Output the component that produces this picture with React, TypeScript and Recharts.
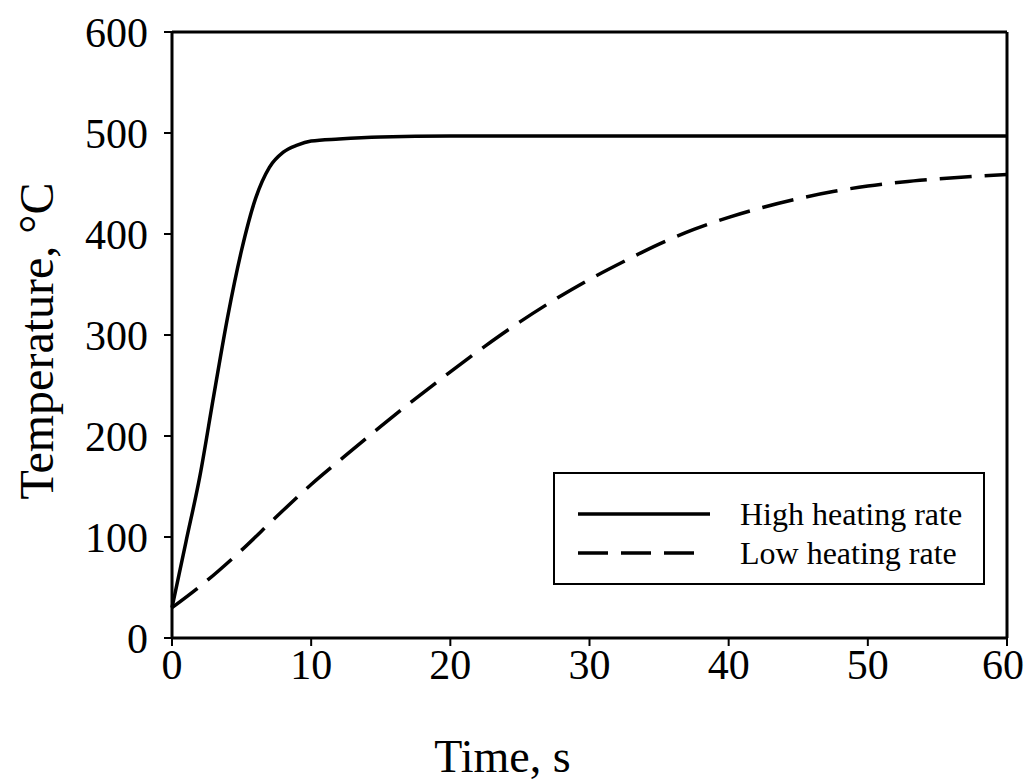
import {
  Legend,
  Line,
  LineChart,
  ReferenceLine,
  XAxis,
  YAxis,
  type LegendProps,
} from "recharts";

const FONT = '"Liberation Serif", "Times New Roman", serif';

// time (s) / temperature (°C)
const highTime = [0, 1, 2, 3, 4, 5, 6, 7, 8, 9, 10, 12, 15, 20, 30, 40, 50, 60];
const highTemp = [30, 95, 160, 240, 318, 384, 435, 466, 481, 488, 492, 494, 496, 497, 497, 497, 497, 497];

const lowTime = [
  0, 2, 5, 7.5, 10, 12.5, 15, 17.5, 20, 22.5, 25, 27.5, 30, 32.5, 35, 37.5, 40, 42.5, 45, 47.5, 50,
  52.5, 55, 57.5, 60,
];
const lowTemp = [
  30, 51, 87, 120, 152, 181, 209.5, 237, 263.5, 289, 313, 335, 355, 373, 390, 404.5, 416.5, 426.5,
  435, 442, 447.5, 451.5, 454.5, 457, 459,
];

const xTicks = [0, 10, 20, 30, 40, 50, 60];
const yTicks = [0, 100, 200, 300, 400, 500, 600];

const seriesNames = ["High heating rate", "Low heating rate"];
const seriesDash = ["", "32 13"];

const highData = highTime.map((t, i) => ({ t, temp: highTemp[i] }));
const lowData = lowTime.map((t, i) => ({ t, temp: lowTemp[i] }));

function LegendBox(_props: LegendProps) {
  return (
    <div
      style={{
        boxSizing: "border-box",
        width: 432,
        height: 113,
        border: "2px solid #000",
        background: "#fff",
        paddingTop: 20,
        fontFamily: FONT,
        fontSize: 32,
        color: "#000",
      }}
    >
      {seriesNames.map((name, i) => (
        <div key={name} style={{ display: "flex", alignItems: "center", height: 39 }}>
          <svg width={185} height={20} style={{ flex: "none" }}>
            <line
              x1={23}
              x2={i === 0 ? 155 : 143}
              y1={10}
              y2={10}
              stroke="#000"
              strokeWidth={3.5}
              strokeDasharray={i === 0 ? undefined : "30 13"}
            />
          </svg>
          <span style={{ lineHeight: 1 }}>{name}</span>
        </div>
      ))}
    </div>
  );
}

export default function App() {
  return (
    <LineChart
      width={1016}
      height={776}
      margin={{ top: 24, right: 17, left: 0, bottom: 0 }}
      style={{ fontFamily: FONT }}
    >
      <XAxis
        type="number"
        dataKey="t"
        domain={[0, 60]}
        ticks={xTicks}
        allowDuplicatedCategory={false}
        height={146}
        axisLine={{ stroke: "#000", strokeWidth: 3 }}
        tickLine={{ stroke: "#000", strokeWidth: 2 }}
        tickSize={8}
        tickMargin={3}
        tick={{ fill: "#000", fontSize: 42, fontFamily: FONT }}
        label={{
          value: "Time, s",
          position: "insideBottom",
          offset: 12,
          dx: -87,
          fill: "#000",
          fontSize: 46,
          fontFamily: FONT,
        }}
      />
      <YAxis
        type="number"
        domain={[0, 600]}
        ticks={yTicks}
        width={164}
        axisLine={{ stroke: "#000", strokeWidth: 3 }}
        tickLine={{ stroke: "#000", strokeWidth: 2 }}
        tickSize={8}
        tickMargin={16}
        tick={{ fill: "#000", fontSize: 42, fontFamily: FONT }}
        label={{
          value: "Temperature, °C",
          angle: -90,
          position: "insideLeft",
          offset: 28,
          dy: 6,
          fill: "#000",
          fontSize: 48,
          fontFamily: FONT,
          style: { textAnchor: "middle" },
        }}
      />
      <ReferenceLine y={600} stroke="#000" strokeWidth={3} />
      <ReferenceLine x={60} stroke="#000" strokeWidth={3} />
      <Line
        data={highData}
        dataKey="temp"
        name={seriesNames[0]}
        type="monotone"
        stroke="#000"
        strokeWidth={3.5}
        dot={false}
        isAnimationActive={false}
      />
      <Line
        data={lowData}
        dataKey="temp"
        name={seriesNames[1]}
        type="monotone"
        stroke="#000"
        strokeWidth={3.5}
        strokeDasharray={seriesDash[1]}
        dot={false}
        isAnimationActive={false}
      />
      <Legend
        layout="horizontal"
        verticalAlign="middle"
        content={LegendBox}
        wrapperStyle={{ left: 545, top: 464, width: 432, height: 113 }}
      />
    </LineChart>
  );
}
